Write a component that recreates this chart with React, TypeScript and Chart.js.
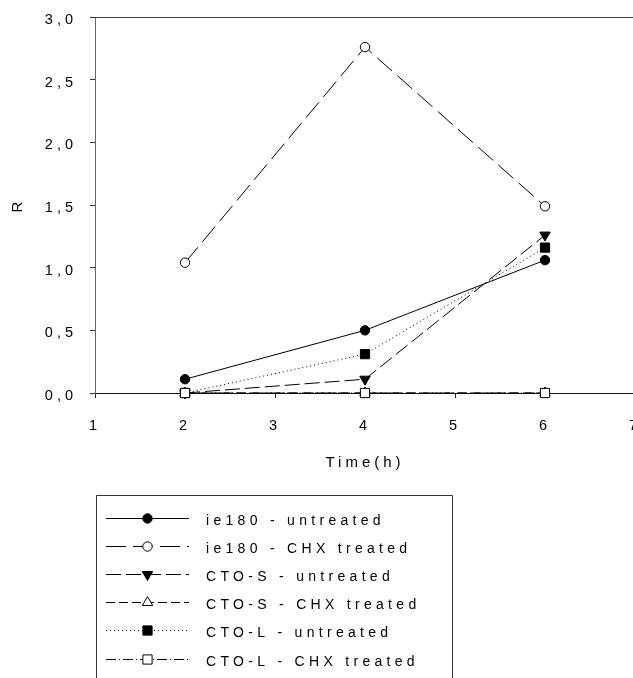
import React, { useEffect, useRef } from "react";
import { Chart, registerables } from "chart.js";

Chart.register(...registerables);

// ---- data ----
const times = [2, 4, 6];
const ie180Untreated = [0.11, 0.5, 1.06];
const ie180Chx = [1.04, 2.76, 1.49];
const ctoSUntreated = [0.0, 0.11, 1.26];
const ctoSChx = [0.0, 0.0, 0.0];
const ctoLUntreated = [0.0, 0.31, 1.16];
const ctoLChx = [0.0, 0.0, 0.0];

const seriesLabels = [
  "ie180 - untreated",
  "ie180 - CHX treated",
  "CTO-S - untreated",
  "CTO-S - CHX treated",
  "CTO-L - untreated",
  "CTO-L - CHX treated",
];
const seriesValues = [ie180Untreated, ie180Chx, ctoSUntreated, ctoSChx, ctoLUntreated, ctoLChx];

const xTickLabels = ["1", "2", "3", "4", "5", "6", "7"];
const yTickLabels = ["0,0", "0,5", "1,0", "1,5", "2,0", "2,5", "3,0"];
const xTitle = "Time(h)";
const yTitle = "R";

// ---- styles ----
const FONT = "'Liberation Sans', Arial, Helvetica, sans-serif";
const seriesStyles = [
  { dash: [], point: "circle", fill: "#000", radius: 4.7, rotation: 0, order: 0 },
  { dash: [20, 7], point: "circle", fill: "#fff", radius: 4.7, rotation: 0, order: 0 },
  { dash: [15, 5], point: "triangle", fill: "#000", radius: 6, rotation: 180, order: 0 },
  { dash: [9, 4], point: "triangle", fill: "#fff", radius: 6, rotation: 0, order: 0 },
  { dash: [1, 3], point: "rect", fill: "#000", radius: 6.5, rotation: 0, order: 0 },
  { dash: [10, 3, 1, 3], point: "rect", fill: "#fff", radius: 6.5, rotation: 0, order: -1 },
];

function drawMarker(ctx: CanvasRenderingContext2D, style: string, x: number, y: number, r: number, rot: number, fill: string) {
  ctx.save();
  ctx.setLineDash([]);
  ctx.lineWidth = 1;
  ctx.strokeStyle = "#000";
  ctx.fillStyle = fill;
  ctx.beginPath();
  if (style === "circle") {
    ctx.arc(x, y, r, 0, Math.PI * 2);
  } else if (style === "triangle") {
    let a = (rot * Math.PI) / 180;
    ctx.moveTo(x + Math.sin(a) * r, y - Math.cos(a) * r);
    a += (2 * Math.PI) / 3;
    ctx.lineTo(x + Math.sin(a) * r, y - Math.cos(a) * r);
    a += (2 * Math.PI) / 3;
    ctx.lineTo(x + Math.sin(a) * r, y - Math.cos(a) * r);
    ctx.closePath();
  } else {
    const s = Math.SQRT1_2 * r;
    ctx.rect(x - s, y - s, 2 * s, 2 * s);
  }
  ctx.fill();
  ctx.stroke();
  ctx.restore();
}

const spacingPlugin = {
  id: "letterSpacing",
  beforeDraw(chart: any) {
    (chart.ctx as any).letterSpacing = "4px";
  },
};

const framePlugin = {
  id: "frame",
  beforeDatasetsDraw(chart: any) {
    const { ctx, chartArea } = chart;
    ctx.save();
    ctx.strokeStyle = "#444";
    ctx.lineWidth = 1;
    ctx.beginPath();
    const t = Math.round(chartArea.top) + 0.5;
    ctx.moveTo(chartArea.left, t);
    ctx.lineTo(chartArea.right, t);
    ctx.lineTo(chartArea.right, chartArea.bottom);
    ctx.stroke();
    ctx.restore();
  },
};

const legendPlugin = {
  id: "boxLegend",
  afterDraw(chart: any) {
    const ctx: CanvasRenderingContext2D = chart.ctx;
    ctx.save();
    ctx.strokeStyle = "#333";
    ctx.lineWidth = 1;
    ctx.setLineDash([]);
    ctx.beginPath();
    ctx.moveTo(96.5, 720);
    ctx.lineTo(96.5, 495.5);
    ctx.lineTo(452.5, 495.5);
    ctx.lineTo(452.5, 720);
    ctx.stroke();
    chart.data.datasets.forEach((ds: any, i: number) => {
      const st = seriesStyles[i];
      const y = Math.round(518 + i * 28.1) + 0.5;
      ctx.strokeStyle = "#000";
      ctx.lineWidth = 1;
      ctx.setLineDash(st.dash);
      ctx.beginPath();
      ctx.moveTo(106, y);
      ctx.lineTo(189, y);
      ctx.stroke();
      ctx.setLineDash([]);
      drawMarker(ctx, st.point, 147.5, y, st.radius, st.rotation, st.fill);
      ctx.fillStyle = "#000";
      ctx.font = `14px ${FONT}`;
      ctx.textAlign = "left";
      ctx.textBaseline = "middle";
      (ctx as any).letterSpacing = "4.3px";
      ctx.fillText(ds.label, 206, y + 3);
    });
    ctx.restore();
  },
};

export default function App() {
  const ref = useRef<HTMLCanvasElement | null>(null);

  useEffect(() => {
    if (!ref.current) return;
    const datasets = seriesLabels.map((label, i) => {
      const st = seriesStyles[i];
      return {
        label,
        data: times.map((t, j) => ({ x: t, y: seriesValues[i][j] })),
        borderColor: "#000",
        borderWidth: 1,
        borderDash: st.dash,
        pointStyle: st.point,
        pointRadius: st.radius,
        pointRotation: st.rotation,
        pointBackgroundColor: st.fill,
        pointBorderColor: "#000",
        pointBorderWidth: 1,
        fill: false,
        tension: 0,
        order: st.order,
        clip: false,
      };
    });

    const chart = new Chart(ref.current, {
      type: "line",
      data: { datasets } as any,
      plugins: [spacingPlugin, framePlugin, legendPlugin],
      options: {
        animation: false,
        responsive: false,
        devicePixelRatio: 1,
        layout: { autoPadding: false, padding: { left: 0, top: 17, right: 10, bottom: 200 } },
        plugins: { legend: { display: false }, tooltip: { enabled: false } },
        scales: {
          x: {
            type: "linear",
            min: 1,
            max: 7,
            afterFit: (s: any) => {
              s.height = 85;
              s.paddingLeft = 0;
              s.paddingRight = 0;
            },
            ticks: {
              stepSize: 1,
              padding: 19,
              color: "#000",
              font: { family: FONT, size: 14.5 },
              maxRotation: 0,
              autoSkip: false,
              callback: (_v: any, i: number) => xTickLabels[i],
            },
            grid: { display: true, drawOnChartArea: false, drawTicks: true, tickLength: 5, color: "#222" },
            border: { display: true, color: "#111", width: 1 },
            title: {
              display: true,
              text: xTitle,
              color: "#000",
              font: { family: FONT, size: 15 },
              padding: { top: 0, bottom: 6 },
            },
          },
          y: {
            type: "linear",
            min: 0,
            max: 3,
            afterFit: (s: any) => {
              s.width = 95;
              s.paddingTop = 0;
              s.paddingBottom = 0;
            },
            ticks: {
              stepSize: 0.5,
              padding: 13,
              labelOffset: 3,
              color: "#000",
              font: { family: FONT, size: 14.5 },
              callback: (_v: any, i: number) => yTickLabels[i],
            },
            grid: { display: true, drawOnChartArea: false, drawTicks: true, tickLength: 5, color: "#333" },
            border: { display: true, color: "#666", width: 1 },
            title: {
              display: true,
              text: yTitle,
              color: "#000",
              font: { family: FONT, size: 15 },
              padding: { top: 8.5, bottom: 0 },
            },
          },
        },
      } as any,
    });
    return () => chart.destroy();
  }, []);

  return (
    <div
      style={{
        position: "fixed",
        left: 0,
        top: 0,
        width: 633,
        height: 678,
        overflow: "hidden",
        background: "#fff",
      }}
    >
      <canvas ref={ref} width={645} height={678} style={{ display: "block", width: 645, height: 678 }} />
    </div>
  );
}
